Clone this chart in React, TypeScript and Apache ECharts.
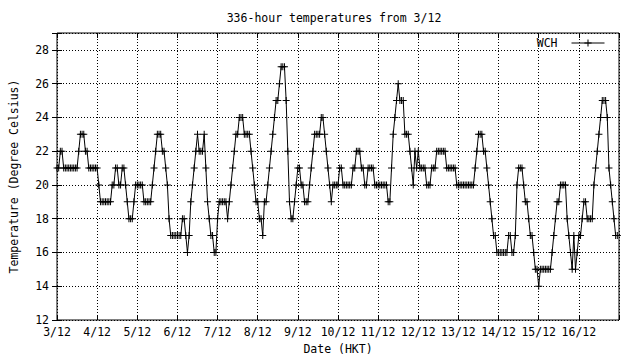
import React, { useEffect, useRef } from "react";
import * as echarts from "echarts";

const chartTitle = "336-hour temperatures from 3/12";
const seriesName = "WCH";
const xAxisName = "Date (HKT)";
const yAxisName = "Temperature (Degree Celsius)";
const dayLabels = ["3/12", "4/12", "5/12", "6/12", "7/12", "8/12", "9/12", "10/12", "11/12", "12/12", "13/12", "14/12", "15/12", "16/12"];

// hourly temperatures (deg C), one array per day
const temps03 = [21,21,22,22,21,21,21,21,21,21,21,21,21,22,23,23,23,22,22,21,21,21,21,21];
const temps04 = [21,20,19,19,19,19,19,19,19,20,20,21,21,20,20,21,21,20,19,18,18,18,19,20];
const temps05 = [20,20,20,20,19,19,19,19,19,20,21,22,23,23,23,22,22,21,20,18,17,17,17,17];
const temps06 = [17,17,17,18,18,17,16,17,19,20,21,22,23,22,22,22,23,21,19,18,17,17,16,16];
const temps07 = [18,19,19,19,19,19,18,19,20,21,22,23,23,24,24,24,23,23,23,23,22,21,20,19];
const temps08 = [19,18,18,17,19,19,20,21,22,23,24,25,25,26,27,27,27,25,22,19,18,18,19,20];
const temps09 = [21,21,20,20,19,19,19,20,21,22,23,23,23,23,24,24,23,22,21,20,19,20,20,20];
const temps10 = [20,21,21,20,20,20,20,20,20,21,21,22,22,22,21,21,20,20,21,21,21,21,20,20];
const temps11 = [20,20,20,20,20,20,19,19,21,23,24,25,26,25,25,25,23,23,23,22,21,20,22,21];
const temps12 = [22,21,21,21,21,20,20,20,21,21,21,22,22,22,22,22,22,21,21,21,21,21,21,20];
const temps13 = [20,20,20,20,20,20,20,20,20,20,21,22,23,23,23,22,22,21,20,19,18,17,17,16];
const temps14 = [16,16,16,16,16,16,17,17,16,16,17,20,21,21,21,20,19,19,18,17,17,16,15,15];
const temps15 = [14,15,15,15,15,15,15,15,16,17,18,19,19,20,20,20,20,18,17,16,15,17,15,16];
const temps16 = [17,17,18,19,19,18,18,18,18,20,21,22,23,24,25,25,25,24,21,20,19,18,17,17];

const temps = [
  ...temps03, ...temps04, ...temps05, ...temps06, ...temps07, ...temps08, ...temps09,
  ...temps10, ...temps11, ...temps12, ...temps13, ...temps14, ...temps15, ...temps16,
];

const FONT = "'DejaVu Sans Mono', monospace";
const FS = 11.5;
const txt = { fontFamily: FONT, fontSize: FS, color: "#000", fontWeight: "normal" as const };

export default function App() {
  const ref = useRef<HTMLDivElement>(null);
  useEffect(() => {
    if (!ref.current) return;
    const chart = echarts.init(ref.current, null, { renderer: "svg" });
    const data = temps.map((t, i) => [i, t]);
    const dotted = { color: "#000", width: 1, type: [1, 2] as any };
    const tick = { show: true, inside: true, length: 5, lineStyle: { color: "#000", width: 1 } };
    chart.setOption({
      animation: false,
      backgroundColor: "#fff",
      textStyle: { fontFamily: FONT, color: "#000" },
      title: {
        text: chartTitle,
        left: 334,
        top: 12,
        textAlign: "center",
        padding: 0,
        textStyle: txt,
      },
      legend: {
        data: [seriesName],
        right: 35,
        top: 37,
        align: "right",
        itemWidth: 33,
        itemHeight: 9,
        padding: 0,
        lineStyle: { width: 1, color: "#000" },
        itemStyle: { color: "#000", borderWidth: 0 },
        textStyle: { ...txt, padding: [0, 9, 0, 0] },
      },
      grid: {
        left: 49,
        right: 21,
        top: 33,
        bottom: 36,
        show: true,
        borderColor: "#000",
        borderWidth: 1,
        backgroundColor: "transparent",
      },
      xAxis: [
        {
          type: "value",
          min: 0,
          max: 336,
          interval: 24,
          position: "bottom",
          name: xAxisName,
          nameLocation: "middle",
          nameGap: 23,
          nameTextStyle: txt,
          axisLine: { show: false },
          axisTick: tick,
          axisLabel: {
            ...txt,
            margin: 6,
            formatter: (v: number) => (v >= 336 ? "" : dayLabels[Math.round(v / 24)] ?? ""),
          },
          splitLine: { show: true, lineStyle: dotted },
        },
        {
          type: "value",
          min: 0,
          max: 336,
          interval: 24,
          position: "top",
          axisLine: { show: false },
          axisTick: tick,
          axisLabel: { show: false },
          splitLine: { show: false },
        },
      ],
      yAxis: [
        {
          type: "value",
          min: 12,
          max: 29,
          interval: 2,
          position: "left",
          name: yAxisName,
          nameLocation: "middle",
          nameRotate: 90,
          nameGap: 37,
          nameTextStyle: txt,
          axisLine: { show: false },
          axisTick: tick,
          axisLabel: {
            ...txt,
            margin: 8,
            formatter: (v: number) => (v > 28 ? "" : String(v)),
          },
          splitLine: { show: true, lineStyle: dotted },
        },
        {
          type: "value",
          min: 12,
          max: 29,
          interval: 2,
          position: "right",
          axisLine: { show: false },
          axisTick: tick,
          axisLabel: { show: false },
          splitLine: { show: false },
        },
      ],
      series: [
        {
          type: "line",
          name: seriesName,
          data,
          xAxisIndex: 0,
          yAxisIndex: 0,
          symbol: "path://M0,3H7V4H0ZM3,0H4V7H3Z",
          symbolSize: 7,
          showSymbol: true,
          showAllSymbol: true,
          itemStyle: { color: "#000", borderWidth: 0 },
          lineStyle: { color: "#000", width: 1 },
        },
      ],
    });
    return () => chart.dispose();
  }, []);
  return <div ref={ref} style={{ width: 640, height: 360, position: "absolute", left: 0, top: 0 }} />;
}
